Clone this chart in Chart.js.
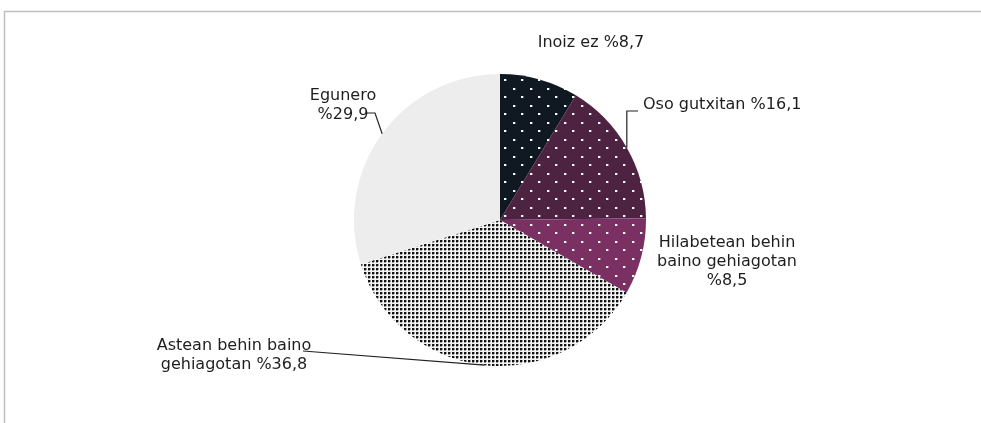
<!DOCTYPE html>
<html><head><meta charset="utf-8">
<script src="https://cdn.jsdelivr.net/npm/chart.js@4/dist/chart.umd.min.js"></script>
<style>html,body{margin:0;padding:0;background:#fff;}canvas{display:block;}</style>
</head><body>
<canvas id="c" width="981" height="423"></canvas>
<script>
// ---- data ----
const categories = ["Inoiz ez", "Oso gutxitan", "Hilabetean behin baino gehiagotan", "Astean behin baino gehiagotan", "Egunero"];
const values = [8.7, 16.1, 8.5, 36.8, 29.9];

// ---- presentation ----
const baseColors = ["#101822", "#4e2241", "#7b3063", "#ffffff", "#ededed"];
const dotKinds = ["sparse", "sparse", "sparse", "dense", "none"];
// label layout relative to pie centre: [dx, dy of first line, align, wrap width]
const labelLayout = [
  [91, -177, "center", 0],
  [143, -115, "left", 0],
  [227, 23, "center", 150],
  [-266, 126, "center", 165],
  [-157, -124, "center", 90]
];
// leader polylines relative to pie centre, finishing at the arc mid-point
const leaderLayout = [
  null,
  {pts: [[138, -109]], elbowToArcX: true},
  null,
  {pts: [[-197, 131]]},
  {pts: [[-134, -107], [-125, -107]]}
];

function makePattern(bg, kind) {
  if (kind === "none") return bg;
  const c = document.createElement("canvas");
  const ctx = c.getContext("2d");
  if (kind === "sparse") {
    c.width = 17; c.height = 17;
    ctx.fillStyle = bg; ctx.fillRect(0, 0, 17, 17);
    ctx.fillStyle = "#ffffff";
    ctx.fillRect(3, 3, 2, 2);
    ctx.fillRect(11, 11, 2, 2);
    ctx.fillStyle = "rgba(255,255,255,0.35)";
    ctx.fillRect(5, 3, 1, 2); ctx.fillRect(13, 11, 1, 2);
  } else {
    c.width = 4; c.height = 4;
    ctx.fillStyle = "#f4f4f4"; ctx.fillRect(0, 0, 4, 4);
    ctx.fillStyle = "#111111";
    ctx.fillRect(0, 0, 2, 2);
    ctx.fillStyle = "#9a9a9a";
    ctx.fillRect(2, 0, 1, 2); ctx.fillRect(0, 2, 2, 1);
  }
  return ctx.createPattern(c, "repeat");
}

function fmt(v) { return "%" + String(v).replace(".", ","); }

function wrapText(ctx, text, maxW) {
  if (!maxW) return [text];
  const words = text.split(" ");
  const lines = [];
  let cur = "";
  for (const w of words) {
    const t = cur ? cur + " " + w : w;
    if (cur && ctx.measureText(t).width > maxW) { lines.push(cur); cur = w; }
    else cur = t;
  }
  if (cur) lines.push(cur);
  return lines;
}

const frameAndLabels = {
  id: "frameAndLabels",
  beforeDraw(chart) {
    const ctx = chart.ctx;
    ctx.save();
    ctx.strokeStyle = "#bfbfbf";
    ctx.lineWidth = 1.5;
    ctx.beginPath();
    ctx.moveTo(4.5, 423); ctx.lineTo(4.5, 11.5); ctx.lineTo(981, 11.5);
    ctx.stroke();
    ctx.restore();
  },
  afterDatasetsDraw(chart) {
    const ctx = chart.ctx;
    const meta = chart.getDatasetMeta(0);
    ctx.save();
    ctx.font = "16px 'DejaVu Sans'";
    ctx.fillStyle = "#1e1e1e";
    ctx.textBaseline = "middle";
    meta.data.forEach((arc, i) => {
      const p = arc.getProps(["x", "y", "startAngle", "endAngle", "outerRadius"], true);
      const mid = (p.startAngle + p.endAngle) / 2;
      const ax = p.x + Math.cos(mid) * p.outerRadius;
      const ay = p.y + Math.sin(mid) * p.outerRadius;
      const L = labelLayout[i];
      const text = categories[i] + " " + fmt(values[i]);
      const lines = wrapText(ctx, text, L[3]);
      ctx.textAlign = L[2];
      lines.forEach((ln, k) => ctx.fillText(ln, p.x + L[0], p.y + L[1] + k * 19));
      const ld = leaderLayout[i];
      if (ld) {
        ctx.strokeStyle = "#222";
        ctx.lineWidth = 1.2;
        ctx.beginPath();
        ld.pts.forEach((q, k) => {
          const X = p.x + q[0], Y = p.y + q[1];
          if (k === 0) ctx.moveTo(X, Y); else ctx.lineTo(X, Y);
        });
        if (ld.elbowToArcX) {
          const last = ld.pts[ld.pts.length - 1];
          ctx.lineTo(ax, p.y + last[1]);
        }
        ctx.lineTo(ax, ay);
        ctx.stroke();
      }
    });
    ctx.restore();
  }
};

const bg = baseColors.map((c, i) => makePattern(c, dotKinds[i]));

new Chart(document.getElementById("c"), {
  type: "pie",
  data: {
    labels: categories,
    datasets: [{ data: values, backgroundColor: bg, borderWidth: 0 }]
  },
  options: {
    responsive: false,
    animation: false,
    layout: { padding: { left: 354, right: 335, top: 74, bottom: 57 } },
    plugins: { legend: { display: false }, tooltip: { enabled: false } }
  },
  plugins: [frameAndLabels]
});
</script>
</body></html>
